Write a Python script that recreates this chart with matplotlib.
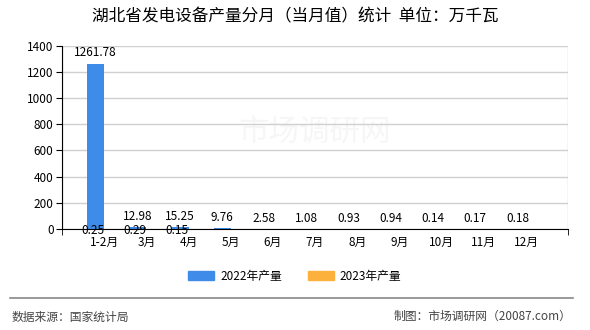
import numpy as np
import matplotlib.pyplot as plt
from matplotlib.patches import Patch
from matplotlib.lines import Line2D

plt.rcParams['font.family'] = ['Noto Sans CJK SC', 'DejaVu Sans']

# values
months = ['1-2月', '3月', '4月', '5月', '6月', '7月', '8月', '9月', '10月', '11月', '12月']
prod2022 = [1261.78, 12.98, 15.25, 9.76, 2.58, 1.08, 0.93, 0.94, 0.14, 0.17, 0.18]
prod2023 = [0.25, 0.29, 0.15]

blue = '#3f8bea'
orange = '#fbb13c'

fig = plt.figure(figsize=(5.9, 3.3), dpi=100)
ax = fig.add_axes([0.105, 0.306, 0.858, 0.556])

x = np.arange(1, len(months) + 1)
w = 0.4
ax.bar(x - w / 2, prod2022, w, color=blue, zorder=3)
ax.bar(x[:len(prod2023)] + w / 2, prod2023, w, color=orange, zorder=3)

for xi, v in zip(x, prod2022):
    ax.annotate('%.2f' % v, (xi - w / 2, v), xytext=(0, 3), textcoords='offset points',
                ha='center', va='bottom', fontsize=8.5, zorder=5)
for xi, v in zip(x, prod2023):
    ax.annotate('%.2f' % v, (xi - 0.27, 0), xytext=(0, -1), textcoords='offset points',
                ha='center', va='center', fontsize=8.5, zorder=5)

# faint watermark
ax.text(0.5, 0.52, '市场调研网', transform=ax.transAxes, ha='center', va='center',
        fontsize=22, color='#f6f6f6', zorder=1)

ax.set_xlim(0, 12)
ax.set_ylim(0, 1400)
ax.set_yticks(range(0, 1401, 200))
ax.set_xticks(x)
ax.set_xticklabels(months)
ax.set_xticks(range(0, 13), minor=True)
ax.tick_params(axis='x', which='major', length=0, labelsize=8.5, pad=5)
ax.tick_params(axis='x', which='minor', length=4, direction='out')
ax.tick_params(axis='y', length=4, labelsize=8.5, pad=2)
ax.grid(True, which='minor', axis='x', color='#d0d0d0', lw=1, zorder=0)
ax.grid(True, which='major', axis='y', color='#d0d0d0', lw=1, zorder=0)
for s in ['top', 'right']:
    ax.spines[s].set_visible(False)
ax.spines['left'].set_color('black')
ax.spines['bottom'].set_color('black')
ax.spines['bottom'].set_zorder(4)

fig.text(0.5, 0.948, '湖北省发电设备产量分月（当月值）统计  单位：万千瓦', ha='center', va='center', fontsize=12)

handles = [Patch(color=blue), Patch(color=orange)]
fig.legend(handles, ['2022年产量', '2023年产量'], loc='center', bbox_to_anchor=(0.5, 0.162),
           ncol=2, frameon=False, fontsize=8.5, handlelength=2.2, handleheight=0.8,
           columnspacing=2.2, handletextpad=0.5)

fig.add_artist(Line2D([0.017, 0.971], [0.097, 0.097], color='#888888', lw=1.2))
fig.text(0.02, 0.04, '数据来源：国家统计局', ha='left', va='center', fontsize=8.5, color='#444444')
fig.text(0.968, 0.04, '制图：市场调研网（20087.com）', ha='right', va='center', fontsize=8.5, color='#444444')

fig.savefig('out.png', dpi=100)
